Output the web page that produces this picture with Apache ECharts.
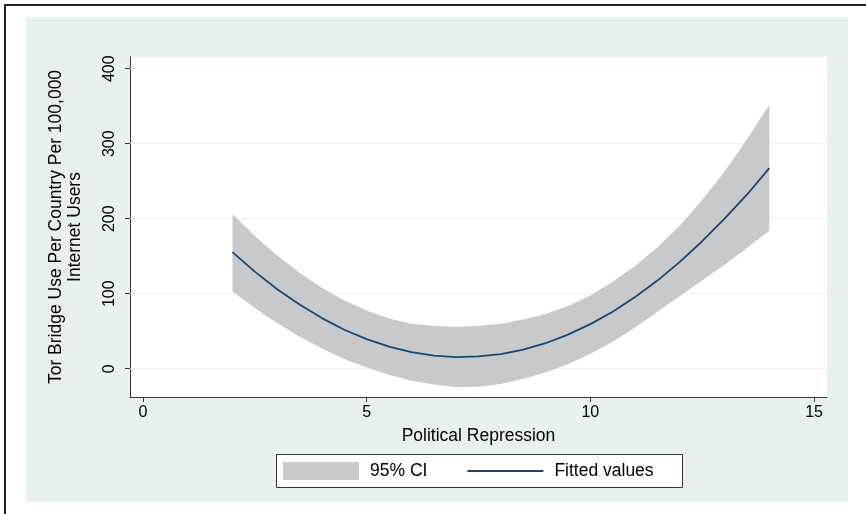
<!DOCTYPE html>
<html>
<head>
<meta charset="utf-8">
<script src="https://cdn.jsdelivr.net/npm/echarts@6/dist/echarts.min.js"></script>
<style>
  html, body { margin: 0; padding: 0; background: #fff; }
  #chart { width: 866px; height: 514px; }
</style>
</head>
<body>
<div id="chart"></div>
<script>
// values
const xValues = [2, 2.5, 3, 3.5, 4, 4.5, 5, 5.5, 6, 6.5, 7, 7.5, 8, 8.5, 9, 9.5, 10, 10.5, 11, 11.5, 12, 12.5, 13, 13.5, 14];
const fitted  = [155.5, 129.5, 106, 85.5, 67.5, 52, 39.5, 29.5, 22, 17.5, 15.5, 16.5, 19.5, 25.5, 34, 45.5, 59.5, 76, 95.5, 117.5, 142.5, 170, 200, 232, 267.5];
const ciUpper = [206, 177, 151, 128, 108, 91, 77.5, 67, 60, 57, 56, 57, 60, 65.5, 73, 83.5, 97.5, 116, 137, 162, 191, 225, 263, 306, 352];
const ciLower = [103, 81, 61, 43, 27, 13, 1.5, -8, -16, -21, -24.5, -24, -20.5, -13.5, -5, 6, 20, 36, 55, 76, 97, 117.5, 138.5, 161, 184];
const yTicks = [0, 100, 200, 300, 400];
const xTicks = [0, 5, 10, 15];

const chart = echarts.init(document.getElementById('chart'));

const font = 'Liberation Sans, Arial, Helvetica, sans-serif';
const bandColor = '#C8C9CB';
const lineColor = '#1A476F';

const bandData = xValues.map((x, i) => [x, ciLower[i], ciUpper[i]]);
const fittedData = xValues.map((x, i) => [x, fitted[i]]);

// whole CI band as one polygon: upper edge left->right, lower edge back
function renderBand(params, api) {
  if (params.dataIndexInside !== 0) return null;
  const n = params.dataInsideLength;
  const pts = [];
  for (let i = 0; i < n; i++) pts.push(api.coord([api.value(0, i), api.value(2, i)]));
  for (let i = n - 1; i >= 0; i--) pts.push(api.coord([api.value(0, i), api.value(1, i)]));
  return {
    type: 'polygon',
    shape: { points: pts },
    style: { fill: bandColor, stroke: null }
  };
}

const option = {
  animation: false,
  textStyle: { fontFamily: font },
  graphic: [
    // outer frame (right and bottom sides fall off the picture)
    { type: 'rect', z: -20, left: 4, top: 4, shape: { width: 900, height: 600 },
      style: { fill: '#fff', stroke: '#222', lineWidth: 2 } },
    // graph region
    { type: 'rect', z: -10, left: 26, top: 17, shape: { width: 822, height: 485 },
      style: { fill: '#E8F0F2' } },
    // legend frame
    { type: 'rect', z: 1, left: 276, top: 454, shape: { width: 406, height: 33 },
      style: { fill: '#fff', stroke: '#333', lineWidth: 1 } }
  ],
  grid: {
    left: 130, top: 57, right: 39, bottom: 117,
    show: true, backgroundColor: '#fff', borderWidth: 0
  },
  legend: {
    left: 283, top: 462, padding: 0,
    itemWidth: 76, itemHeight: 18, itemGap: 40,
    textStyle: { fontSize: 17.5, color: '#000', fontFamily: font, padding: [0, 0, 0, 6] },
    data: [
      { name: '95% CI', icon: 'rect', itemStyle: { color: bandColor } },
      { name: 'Fitted values', icon: 'path://M0,0 L76,0 L76,1.8 L0,1.8 Z', itemStyle: { color: lineColor } }
    ]
  },
  xAxis: {
    type: 'value', min: -0.29, max: 15.29,
    name: 'Political Repression', nameLocation: 'middle', nameGap: 30,
    nameTextStyle: { fontSize: 17.5, color: '#000' },
    axisLine: { onZero: false, lineStyle: { color: '#333', width: 1 } },
    axisTick: { show: true, length: 5, customValues: xTicks, lineStyle: { color: '#333' } },
    axisLabel: { customValues: xTicks, fontSize: 16, color: '#000', margin: 8 },
    splitLine: { show: false }
  },
  yAxis: {
    type: 'value', min: -37.7, max: 415.6,
    name: 'Tor Bridge Use Per Country Per 100,000\nInternet Users',
    nameLocation: 'middle', nameGap: 46, nameRotate: 90,
    nameTextStyle: { fontSize: 17.5, color: '#000', lineHeight: 18.5 },
    axisLine: { show: true, onZero: false, lineStyle: { color: '#333', width: 1 } },
    axisTick: { show: true, length: 5, customValues: yTicks, lineStyle: { color: '#333' } },
    axisLabel: { customValues: yTicks, rotate: 90, fontSize: 16, color: '#000', margin: 12 },
    splitLine: { show: false }
  },
  series: [
    {
      name: '95% CI', type: 'custom',
      renderItem: renderBand,
      data: bandData,
      encode: { x: 0, y: [1, 2] },
      itemStyle: { color: bandColor },
      silent: true,
      z: 3
    },
    {
      name: 'Fitted values', type: 'line',
      data: fittedData, symbol: 'none',
      itemStyle: { color: lineColor },
      lineStyle: { color: lineColor, width: 1.8 },
      markLine: {
        silent: true, symbol: 'none', z: 1, animation: false,
        label: { show: false },
        lineStyle: { color: '#EAF2F3', width: 1, type: 'solid' },
        data: yTicks.map(v => ({ yAxis: v }))
      },
      z: 4
    }
  ]
};

chart.setOption(option);
</script>
</body>
</html>
